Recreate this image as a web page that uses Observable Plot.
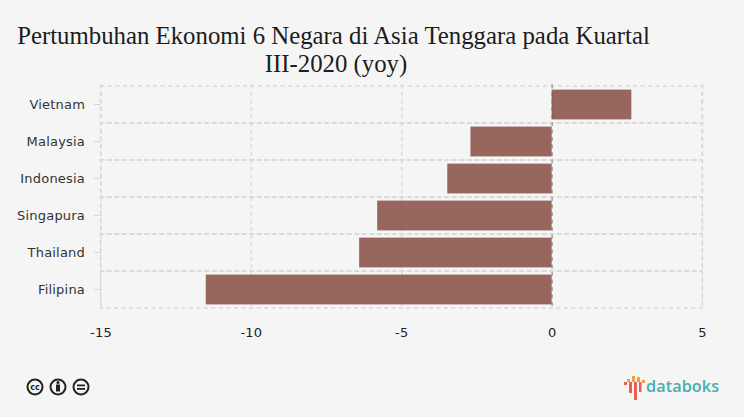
<!DOCTYPE html>
<html><head><meta charset="utf-8">
<script src="https://cdn.jsdelivr.net/npm/d3@7"></script>
<script src="https://cdn.jsdelivr.net/npm/@observablehq/plot@0.6"></script>
<style>
html,body{margin:0;padding:0;background:#f5f5f5;width:744px;height:417px;overflow:hidden}
#title{position:absolute;left:0;top:22px;width:667px;text-align:center;white-space:nowrap;font:400 24.8px/27.5px "Liberation Serif",serif;color:#1c1c1c}
#title span{position:relative;left:2.5px}
#chart{position:absolute;left:0;top:76px}
#chart svg{background:transparent;display:block}
#foot{position:absolute;left:0;top:370px;width:744px;height:34px}
</style></head><body>
<div id="title">Pertumbuhan Ekonomi 6 Negara di Asia Tenggara pada Kuartal<br><span>III-2020 (yoy)</span></div>
<div id="chart"></div>
<svg id="foot" width="744" height="34" viewBox="0 370 744 34">
  <g fill="none" stroke="#222" stroke-width="2">
    <circle cx="35" cy="387" r="7.5"/><circle cx="58" cy="387" r="7.5"/><circle cx="81" cy="387" r="7.5"/>
  </g>
  <text x="35" y="390" text-anchor="middle" font-family="DejaVu Sans" font-weight="700" font-size="8" fill="#222">cc</text>
  <g fill="#222"><circle cx="58" cy="382.5" r="1.6"/><rect x="56" y="384.5" width="4" height="7"/>
  <rect x="77" y="384.5" width="8" height="1.8"/><rect x="77" y="388" width="8" height="1.8"/></g>
  <g fill="#e8604f"><rect x="624" y="382" width="3" height="3"/><rect x="629" y="382" width="3" height="11"/><rect x="634" y="382" width="3" height="18" /><rect x="639" y="382" width="2.5" height="10"/></g>
  <g fill="#efa04a"><rect x="627" y="379" width="3" height="3"/><rect x="632" y="376" width="3" height="6"/><rect x="637" y="377" width="3" height="5"/><rect x="642" y="380" width="3" height="3"/></g>
  <text x="646" y="392" font-family="'Open Sans',Lato,sans-serif" font-weight="600" font-size="16.2" letter-spacing=".1" fill="#45aeae">databoks</text>
</svg>
<script>
const negara = ["Vietnam","Malaysia","Indonesia","Singapura","Thailand","Filipina"];
const pertumbuhan = [2.65,-2.7,-3.47,-5.8,-6.4,-11.5];
const xTicks = [-15,-10,-5,0,5];
const rows = negara.map((n,i)=>({negara:n,nilai:pertumbuhan[i]}));
const grid = {stroke:"#d8d8d8",strokeWidth:1.3,strokeDasharray:"4 3.5"};
const plot = Plot.plot({
  width:744,height:269,
  marginTop:8.5,marginBottom:36,marginLeft:100.5,marginRight:42,
  style:{background:"transparent",fontFamily:"'DejaVu Sans',sans-serif",fontSize:"13px",letterSpacing:".2px",color:"#333",overflow:"visible"},
  x:{domain:[-15,5],ticks:xTicks,label:null},
  y:{domain:negara,padding:0,label:null},
  marks:[
    Plot.barX(negara,{x1:-15,x2:5,y:d=>d,fill:"none",...grid}),
    Plot.ruleX(xTicks,grid),
    Plot.barX(rows,{x1:0,x2:"nilai",y:"negara",insetTop:3.6,insetBottom:3.6,fill:"#7f4338",fillOpacity:.8}),
    Plot.ruleX([0],{stroke:"#6b5450",strokeWidth:1.2,strokeDasharray:"4 3.5",strokeOpacity:.55}),
    Plot.axisY({anchor:"left",tickSize:7,tickPadding:9,stroke:"#d8d8d8",label:null,fill:"#333",fontSize:13,textStroke:"none",dy:-.5}),
    Plot.axisX({anchor:"bottom",ticks:xTicks,tickSize:0,tickPadding:18,label:null,fill:"#222",fontSize:13,tickFormat:d=>String(d)})
  ]
});
document.getElementById("chart").append(plot);
</script>
</body></html>
